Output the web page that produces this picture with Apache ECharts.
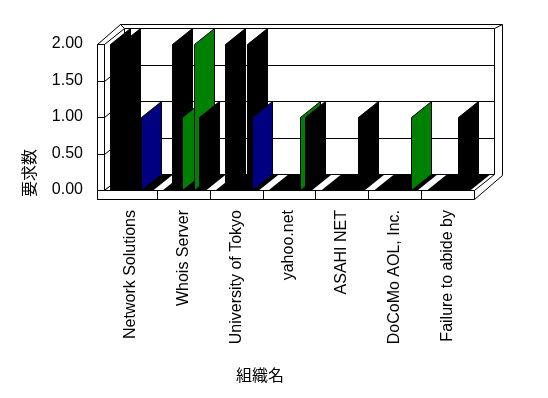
<!DOCTYPE html>
<html>
<head>
<meta charset="utf-8">
<script src="https://cdn.jsdelivr.net/npm/echarts@6/dist/echarts.min.js"></script>
<style>
    html, body { margin: 0; padding: 0; background: #fff; }
    #chart { width: 548px; height: 398px; }
</style>
</head>
<body>
<div id="chart"></div>
<script>
// 組織別 要求数 (3D風の縦棒グラフ)
var categories = ['Network Solutions', 'Whois Server', 'University of Tokyo', 'yahoo.net', 'ASAHI NET', 'DoCoMo AOL, Inc.', 'Failure to abide by'];
var yTicks = [0, 0.5, 1, 1.5, 2];

// 系列ごとの値
var s1 = [2, 0, 0, 0, 0, 0, 0];
var s2 = [2, 2, 2, 0, 0, 0, 0];
var s3 = [0, 1, 0, 0, 0, 0, 0];
var s4 = [1, 2, 2, 1, 0, 0, 1];
var s5 = [0, 1, 1, 1, 1, 1, 0];

// 側面の色 (k:黒 n:紺 g:緑)
var s1Side = ['k', 'k', 'k', 'k', 'k', 'k', 'k'];
var s2Side = ['k', 'k', 'k', 'k', 'k', 'k', 'k'];
var s3Side = ['g', 'g', 'g', 'g', 'g', 'g', 'g'];
var s4Side = ['n', 'g', 'k', 'g', 'k', 'k', 'k'];
var s5Side = ['k', 'k', 'n', 'k', 'k', 'g', 'k'];

(function () {
    // 1.初始化echarts实例对象
    var myChart = echarts.init(document.getElementById('chart'));

    var DX = 20, DY = -16;   // 奥行きのずれ
    var sideColor = { k: '#000000', n: '#000080', g: '#008000' };
    var slots = [0.114, 0.294, 0.474, 0.70, 0.80];   // 帯の中の棒の位置
    var yMin = yTicks[0], yMax = yTicks[yTicks.length - 1];
    var font = '"Liberation Sans", Arial, sans-serif';
    var cjk = '"Noto Sans CJK JP", sans-serif';

    function px(v) { return Math.round(v) + 0.5; }

    // 壁と床
    function renderFrame(params, api) {
        var band = api.size([1, 0])[0];
        var x0 = api.coord([0, yMin])[0] - band / 2;
        var x1 = api.coord([categories.length - 1, yMin])[0] + band / 2;
        var y0 = api.coord([0, yMin])[1];
        var yT = api.coord([0, yMax])[1];
        var ch = [];
        var poly = function (pts, fill, stroke) {
            ch.push({ type: 'polygon', shape: { points: pts }, style: { fill: fill, stroke: stroke, lineWidth: 1 } });
        };
        var seg = function (ax, ay, bx, by) {
            ch.push({ type: 'line', shape: { x1: px(ax), y1: px(ay), x2: px(bx), y2: px(by) }, style: { stroke: '#000', lineWidth: 1 } });
        };
        // 外形
        poly([[px(x0 - 7), px(yT)], [px(x0 + DX - 4), px(yT + DY - 4)], [px(x1 + DX + 8), px(yT + DY - 4)],
            [px(x1 + DX + 8), px(y0 + DY + 1)], [px(x1), px(y0 + 9)], [px(x0 - 7), px(y0 + 9)]], '#fff', '#000');
        // 奥の壁
        poly([[px(x0 + DX), px(yT + DY)], [px(x1 + DX), px(yT + DY)], [px(x1 + DX), px(y0 + DY)], [px(x0 + DX), px(y0 + DY)]], '#fff', '#000');
        seg(x1 + DX, yT + DY, x1 + DX + 8, yT + DY - 4);
        seg(x0 + DX, yT + DY, x0 + DX - 4, yT + DY - 4);
        // 左の壁
        poly([[px(x0), px(yT)], [px(x0 + DX), px(yT + DY)], [px(x0 + DX), px(y0 + DY)], [px(x0), px(y0)]], '#fff', '#000');
        poly([[px(x0 - 7), px(yT)], [px(x0), px(yT)], [px(x0), px(y0 + 9)], [px(x0 - 7), px(y0 + 9)]], '#fff', '#000');
        // 床
        poly([[px(x0), px(y0)], [px(x1), px(y0)], [px(x1 + DX), px(y0 + DY)], [px(x0 + DX), px(y0 + DY)]], '#fff', '#000');
        poly([[px(x0 - 7), px(y0)], [px(x1), px(y0)], [px(x1), px(y0 + 9)], [px(x0 - 7), px(y0 + 9)]], '#fff', '#000');
        // 目盛線
        yTicks.forEach(function (t) {
            var y = api.coord([0, t])[1];
            if (t > yMin && t < yMax) {
                seg(x0 + DX, y + DY, x1 + DX, y + DY);
                seg(x0, y, x0 + DX, y + DY);
            }
            seg(x0 - 7, y, x0, y);
        });
        for (var k = 1; k < categories.length; k++) {
            seg(x0 + k * band, y0, x0 + k * band, y0 + 9);
        }
        // 棒の下の黒い床
        for (var i = 0; i < categories.length; i++) {
            var bs = x0 + i * band;
            var a = bs + 0.12 * band, b = bs + 0.94 * band;
            poly([[a, y0], [b, y0], [b + DX, y0 + DY], [a + DX, y0 + DY]], '#000', null);
        }
        return { type: 'group', children: ch };
    }

    // 棒 (側面だけが見える)
    function barSeries(name, values, sides, k) {
        return {
            type: 'custom',
            name: name,
            coordinateSystem: 'cartesian2d',
            clip: false,
            data: values.map(function (v, i) { return [i, v]; }),
            renderItem: function (params, api) {
                var i = api.value(0), v = api.value(1);
                if (!v) return null;
                var band = api.size([1, 0])[0];
                var base = api.coord([i, 0]);
                var top = api.coord([i, v]);
                var xe = px(base[0] - band / 2 + slots[k] * band);
                return {
                    type: 'polygon',
                    shape: { points: [[xe, px(base[1])], [xe, px(top[1])], [xe + DX, px(top[1] + DY)], [xe + DX, px(base[1] + DY)]] },
                    style: { fill: sideColor[sides[i]], stroke: '#000', lineWidth: 1 }
                };
            }
        };
    }

    // 2.指定配置项与数据
    var option = {
        animation: false,
        grid: { left: 104, right: 74, top: 44, bottom: 208 },
        xAxis: {
            type: 'category',
            data: categories,
            boundaryGap: true,
            axisLine: { show: false },
            axisTick: { show: false },
            axisLabel: { rotate: 90, margin: 20, interval: 0, color: '#000', fontSize: 16, fontFamily: font }
        },
        yAxis: {
            type: 'value',
            min: yMin,
            max: yMax,
            interval: 0.5,
            axisLine: { show: false },
            axisTick: { show: false },
            splitLine: { show: false },
            axisLabel: {
                margin: 21, color: '#000', fontSize: 16, fontFamily: font,
                formatter: function (v) { return v.toFixed(2); }
            }
        },
        graphic: [
            { type: 'text', left: 236, top: 367, style: { text: '組織名', fill: '#000', fontSize: 16, fontFamily: cjk } },
            { type: 'text', x: 21, y: 197, rotation: Math.PI / 2, style: { text: '要求数', fill: '#000', fontSize: 16, fontFamily: cjk } }
        ],
        series: [
            { type: 'custom', name: 'frame', coordinateSystem: 'cartesian2d', clip: false, silent: true, data: [[0, 0]], renderItem: renderFrame },
            barSeries('系列1', s1, s1Side, 0),
            barSeries('系列2', s2, s2Side, 1),
            barSeries('系列3', s3, s3Side, 2),
            barSeries('系列4', s4, s4Side, 3),
            barSeries('系列5', s5, s5Side, 4)
        ]
    };

    // 3.将配置项设置给echarts实例对象
    myChart.setOption(option);
})();
</script>
</body>
</html>
